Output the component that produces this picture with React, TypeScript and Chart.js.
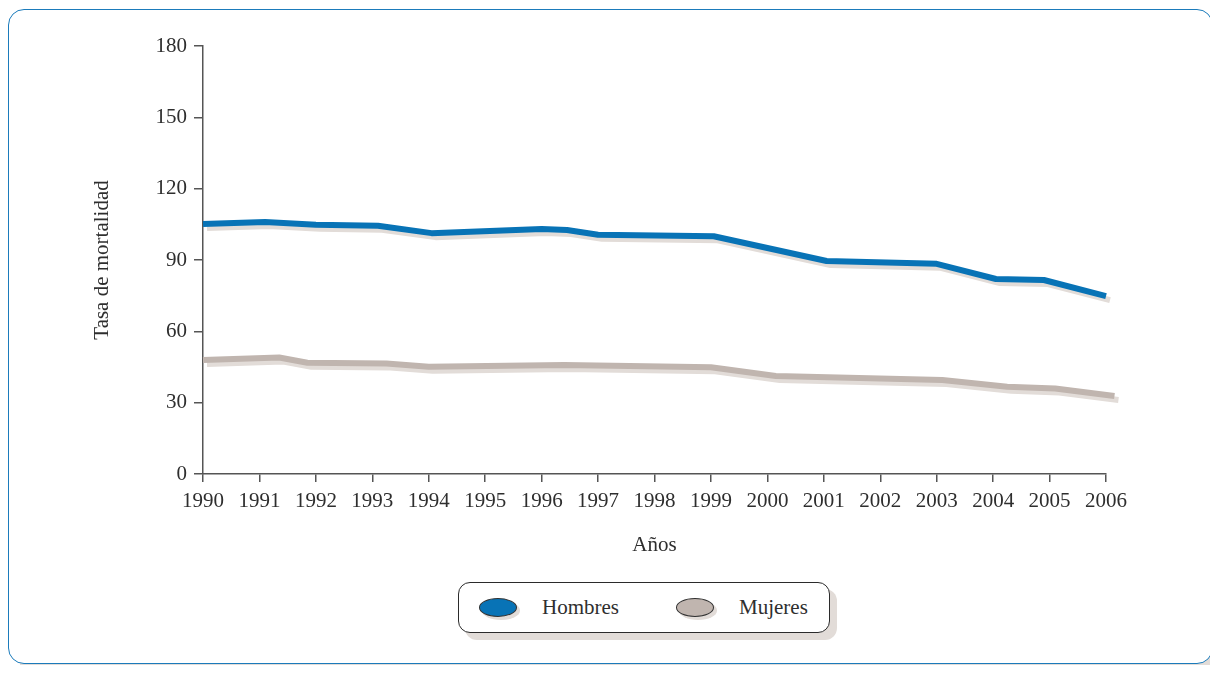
import React, { useEffect, useRef } from "react";
import { Chart, registerables } from "chart.js";

Chart.register(...registerables);

// Mortality rate per year (vertices of each polyline, year on a continuous axis)
const hombresYears = [1990, 1991.1, 1992.0, 1993.1, 1994.05, 1996.0, 1996.45, 1997.0, 1999.05, 2001.05, 2003.0, 2004.05, 2004.9, 2006.0];
const hombresRates = [105.1, 106.0, 104.8, 104.4, 101.3, 103.0, 102.6, 100.6, 100.0, 89.6, 88.4, 82.0, 81.6, 74.8];

const mujeresYears = [1990, 1991.35, 1991.85, 1993.25, 1994.0, 1996.4, 1999.0, 2000.15, 2003.1, 2004.25, 2005.1, 2006.15];
const mujeresRates = [47.9, 49.0, 46.8, 46.5, 45.1, 45.8, 44.9, 41.2, 39.5, 36.7, 36.0, 32.8];

const yearTicks = [1990, 1991, 1992, 1993, 1994, 1995, 1996, 1997, 1998, 1999, 2000, 2001, 2002, 2003, 2004, 2005, 2006];
const rateTicks = [0, 30, 60, 90, 120, 150, 180];

const seriesNames = ["Hombres", "Mujeres"];
const seriesColors = ["#0873b6", "#c0b5af"];

const FONT = "'Liberation Serif', 'DejaVu Serif', serif";
const TEXT = "#2e2e2e";
const AXIS = "#555555";
const SHADOW = "#e2dcd8";

// Flat offset shadow under each line
const lineShadow = {
  id: "lineShadow",
  beforeDatasetDraw(chart: any) {
    const ctx = chart.ctx;
    ctx.save();
    ctx.shadowColor = SHADOW;
    ctx.shadowOffsetX = 4;
    ctx.shadowOffsetY = 4;
    ctx.shadowBlur = 0;
  },
  afterDatasetDraw(chart: any) {
    chart.ctx.restore();
  },
};

const toPoints = (xs: number[], ys: number[]) => xs.map((x, i) => ({ x, y: ys[i] }));

function LegendItem({ color, label }: { color: string; label: string }) {
  return (
    <div style={{ display: "flex", alignItems: "center" }}>
      <div
        style={{
          width: 36,
          height: 17,
          borderRadius: "50%",
          background: color,
          border: "1.5px solid #333",
          boxShadow: `3px 3px 0 ${SHADOW}`,
        }}
      />
      <span style={{ marginLeft: 25, fontFamily: FONT, fontSize: 21, color: TEXT }}>{label}</span>
    </div>
  );
}

export default function App() {
  const canvasRef = useRef<HTMLCanvasElement | null>(null);

  useEffect(() => {
    if (!canvasRef.current) return;
    const chart = new Chart(canvasRef.current, {
      type: "line",
      data: {
        datasets: [
          {
            label: seriesNames[0],
            data: toPoints(hombresYears, hombresRates),
            borderColor: seriesColors[0],
            borderWidth: 6,
            pointRadius: 0,
            tension: 0,
            clip: false as any,
            borderJoinStyle: "round",
          },
          {
            label: seriesNames[1],
            data: toPoints(mujeresYears, mujeresRates),
            borderColor: seriesColors[1],
            borderWidth: 6,
            pointRadius: 0,
            tension: 0,
            clip: false as any,
            borderJoinStyle: "round",
          },
        ],
      },
      options: {
        animation: false,
        responsive: false,
        layout: { padding: { left: 82, top: 38, right: 108, bottom: 20 } },
        plugins: { legend: { display: false }, tooltip: { enabled: false } },
        scales: {
          x: {
            type: "linear",
            min: yearTicks[0],
            max: yearTicks[yearTicks.length - 1],
            afterBuildTicks: (s: any) => {
              s.ticks = yearTicks.map((v) => ({ value: v }));
            },
            afterFit: (s: any) => {
              s.height = 84;
            },
            ticks: {
              callback: (v: any) => String(v),
              font: { family: FONT, size: 21 },
              color: TEXT,
              padding: 7,
              maxRotation: 0,
              autoSkip: false,
            },
            grid: { drawOnChartArea: false, drawTicks: true, tickLength: 8, color: AXIS, lineWidth: 1.5 },
            border: { display: true, color: AXIS, width: 1.5 },
            title: {
              display: true,
              text: "Años",
              font: { family: FONT, size: 21 },
              color: TEXT,
              padding: { top: 0, bottom: 0 },
            },
          },
          y: {
            min: rateTicks[0],
            max: rateTicks[rateTicks.length - 1],
            afterBuildTicks: (s: any) => {
              s.ticks = rateTicks.map((v) => ({ value: v }));
            },
            afterFit: (s: any) => {
              s.width = 113;
            },
            ticks: {
              font: { family: FONT, size: 21 },
              color: TEXT,
              padding: 7,
            },
            grid: { drawOnChartArea: false, drawTicks: true, tickLength: 9, color: AXIS, lineWidth: 1.5 },
            border: { display: true, color: AXIS, width: 1.5 },
            title: {
              display: true,
              text: "Tasa de mortalidad",
              font: { family: FONT, size: 21 },
              color: TEXT,
              padding: { top: 0, bottom: 0 },
            },
          },
        },
      },
      plugins: [lineShadow],
    });
    return () => chart.destroy();
  }, []);

  return (
    <div style={{ position: "relative", width: 1202, height: 667, marginBottom: -10 }}>
      <div
        style={{
          position: "absolute",
          left: 12,
          top: 645,
          width: 1197,
          height: 22,
          background: SHADOW,
        }}
      />
      <div
        style={{
          position: "absolute",
          left: 0,
          top: 1,
          width: 1203,
          height: 653,
          border: "1.5px solid #1b7bbb",
          borderRadius: 16,
          background: "#ffffff",
        }}
      />
      <canvas
        ref={canvasRef}
        width={1206}
        height={570}
        style={{ position: "absolute", left: 0, top: 0, width: 1206, height: 570 }}
      />
      <div
        style={{
          position: "absolute",
          left: 450,
          top: 574,
          width: 372,
          height: 51,
          border: "1.5px solid #2b2b2b",
          borderRadius: 12,
          background: "#ffffff",
          boxShadow: `7px 7px 0 ${SHADOW}`,
          display: "flex",
          alignItems: "center",
          paddingLeft: 20,
          boxSizing: "border-box",
        }}
      >
        <LegendItem color={seriesColors[0]} label={seriesNames[0]} />
        <div style={{ width: 57 }} />
        <LegendItem color={seriesColors[1]} label={seriesNames[1]} />
      </div>
    </div>
  );
}
